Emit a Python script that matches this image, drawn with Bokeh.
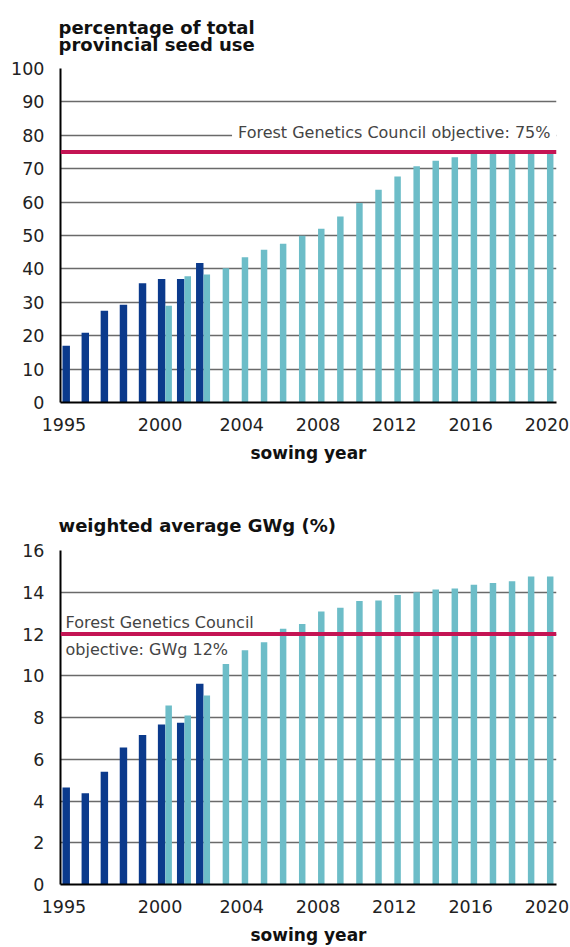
from bokeh.plotting import figure
from bokeh.models import Span, Label, FixedTicker, Title
from bokeh.layouts import column
from bokeh.embed import file_html
from bokeh.resources import INLINE

# ---------------- data ----------------
years_actual = [1995, 1996, 1997, 1998, 1999, 2000, 2001, 2002]
years_proj = list(range(2000, 2021))

pct_actual = [17.0, 20.9, 27.5, 29.3, 35.7, 37.0, 37.0, 41.8]
pct_proj = [29.0, 37.8, 38.3, 40.2, 43.5, 45.7, 47.5, 49.9, 52.0, 55.7, 59.7,
            63.7, 67.7, 70.7, 72.4, 73.4, 75.0, 75.0, 75.0, 75.0, 75.0]

gwg_actual = [4.65, 4.37, 5.4, 6.56, 7.16, 7.67, 7.75, 9.62]
gwg_proj = [8.57, 8.1, 9.05, 10.56, 11.22, 11.6, 12.25, 12.48, 13.08, 13.26, 13.58,
            13.6, 13.87, 14.0, 14.13, 14.18, 14.36, 14.44, 14.53, 14.75, 14.75]

pct_ticks = list(range(0, 101, 10))
gwg_ticks = list(range(0, 17, 2))
year_tick_labels = ["1995", "2000", "2004", "2008", "2012", "2016", "2020"]

pct_objective = 75
gwg_objective = 12

# ---------------- style ----------------
FONT = "DejaVu Sans"
DARK = "#0b3a8c"
LIGHT = "#6dbdc8"
RED = "#c41454"
GRID = "#6a6a6a"

tick_pos = [1994.68, 1999.72, 2004, 2008, 2012, 2016, 2020]


def make_fig(ymax, yticks, actual, proj, objective, height, top_border, bottom_border):
    p = figure(width=570, height=height, x_range=(1994.5, 2020.5), y_range=(0, ymax),
               output_backend="svg", toolbar_location=None,
               min_border_left=60, min_border_right=14,
               min_border_top=top_border, min_border_bottom=bottom_border)
    p.title = None
    p.outline_line_color = None
    p.background_fill_color = "white"
    p.border_fill_color = "white"

    p.xgrid.grid_line_color = None
    p.ygrid.grid_line_color = GRID
    p.ygrid.grid_line_width = 1.6
    p.yaxis.ticker = FixedTicker(ticks=yticks)
    p.xaxis.ticker = FixedTicker(ticks=tick_pos)
    p.xaxis.major_label_overrides = {t: lab for t, lab in zip(tick_pos, year_tick_labels)}

    for ax in (p.xaxis, p.yaxis):
        ax.axis_line_color = "black"
        ax.axis_line_width = 2
        ax.major_tick_line_color = None
        ax.minor_tick_line_color = None
        ax.major_label_text_font = FONT
        ax.major_label_text_font_size = "17.5px"
        ax.major_label_text_color = "#222222"
    p.yaxis.major_label_standoff = 10
    p.xaxis.major_label_standoff = 9
    p.xaxis.axis_label = "sowing year"
    p.xaxis.axis_label_text_font = FONT
    p.xaxis.axis_label_text_font_size = "17px"
    p.xaxis.axis_label_text_font_style = "bold"
    p.xaxis.axis_label_text_color = "#111111"
    p.xaxis.axis_label_standoff = 9

    p.vbar(x=[y - 0.2 for y in years_actual], top=actual, width=0.39, bottom=0,
           fill_color=DARK, line_color=None)
    p.vbar(x=[y + 0.17 for y in years_proj], top=proj, width=0.34, bottom=0,
           fill_color=LIGHT, line_color=None)
    p.add_layout(Span(location=objective, dimension="width", line_color=RED, line_width=4))
    return p


def title_obj(text, standoff, line_height=1.0):
    return Title(text=text, text_font=FONT, text_font_size="18px",
                 text_font_style="bold", text_color="#111111", align="left",
                 offset=-2, standoff=standoff, text_line_height=line_height)


p1 = make_fig(100, pct_ticks, pct_actual, pct_proj, pct_objective, 470, 68, 68)
p1.add_layout(title_obj("percentage of total\nprovincial seed use", 27, 0.82), "above")
p1.add_layout(Label(x=2020.5, y=80.9, text="Forest Genetics Council objective: 75%",
                    text_align="right", text_baseline="middle", text_font=FONT,
                    text_font_size="16px", text_color="#444444",
                    background_fill_color="white", padding=6))

p2 = make_fig(16, gwg_ticks, gwg_actual, gwg_proj, gwg_objective, 477, 80, 61)
p2.add_layout(title_obj("weighted average GWg (%)", 30), "above")
p2.add_layout(Label(x=1994.5, x_offset=5, y=12.57, text="Forest Genetics Council",
                    text_align="left", text_baseline="middle", text_font=FONT,
                    text_font_size="16px", text_color="#444444"))
p2.add_layout(Label(x=1994.5, x_offset=5, y=11.24, text="objective: GWg 12%",
                    text_align="left", text_baseline="middle", text_font=FONT,
                    text_font_size="16px", text_color="#444444"))

layout = column(p1, p2, spacing=0)
open("out.html", "w").write(file_html(layout, INLINE))
